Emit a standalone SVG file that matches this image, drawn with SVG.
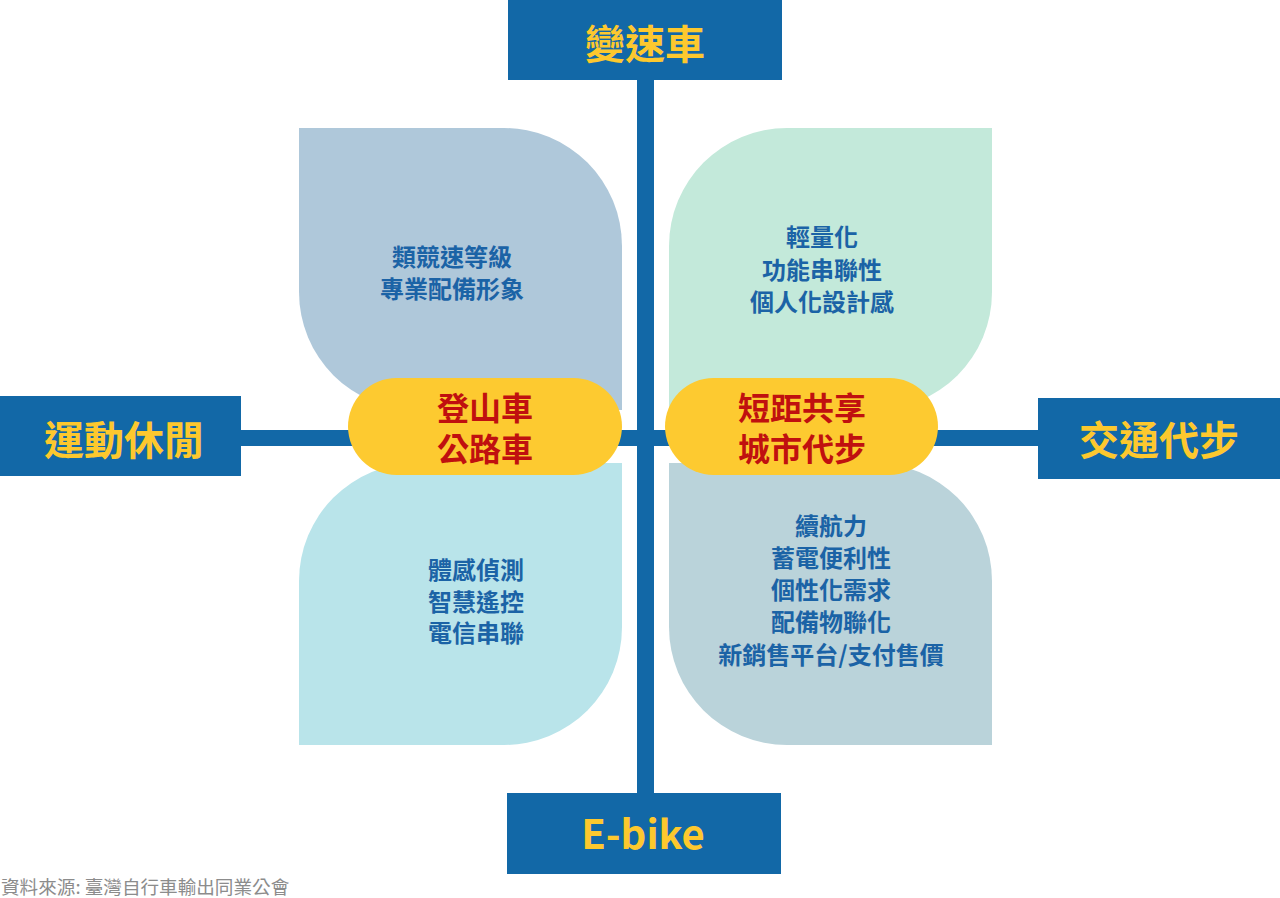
<svg xmlns="http://www.w3.org/2000/svg" width="1280" height="898" viewBox="0 0 1280 898">
<style>
.box{fill:#1268A7}
.boxt{font-family:"Noto Sans CJK TC","Noto Sans",sans-serif;font-weight:700;font-size:40px;fill:#FDC82E;text-anchor:middle}
.pill{fill:#FDCA30}
.pillt{font-family:"Noto Sans CJK TC",sans-serif;font-weight:700;font-size:32px;fill:#C0100F;text-anchor:middle}
.leaft{font-family:"Noto Sans CJK TC",sans-serif;font-weight:700;font-size:24px;fill:#1B63A6;text-anchor:middle}
.line{fill:#1268A7}
.note{font-family:"Noto Sans CJK TC",sans-serif;font-size:18.6px;fill:#8C8C8C}
</style>
<rect width="1280" height="898" fill="#FFFFFF"/>
<g id="leaf-tl">
<path d="M299,128 H504 A118,118 0 0 1 622,246 V410 H417 A118,118 0 0 1 299,292 Z" fill="#AFC8DA"/>
<text class="leaft" x="452" y="266">類競速等級</text>
<text class="leaft" x="452" y="298">專業配備形象</text>
</g>
<g id="leaf-tr">
<path d="M787,128 H992 V292 A118,118 0 0 1 874,410 H669 V246 A118,118 0 0 1 787,128 Z" fill="#C3E9DA"/>
<text class="leaft" x="822" y="246">輕量化</text>
<text class="leaft" x="822" y="279">功能串聯性</text>
<text class="leaft" x="822" y="311">個人化設計感</text>
</g>
<g id="leaf-bl">
<path d="M417,463 H622 V627 A118,118 0 0 1 504,745 H299 V581 A118,118 0 0 1 417,463 Z" fill="#B9E4EA"/>
<text class="leaft" x="476" y="579">體感偵測</text>
<text class="leaft" x="476" y="611">智慧遙控</text>
<text class="leaft" x="476" y="642">電信串聯</text>
</g>
<g id="leaf-br">
<path d="M669,463 H874 A118,118 0 0 1 992,581 V745 H787 A118,118 0 0 1 669,627 Z" fill="#BAD3DA"/>
<text class="leaft" x="831" y="535">續航力</text>
<text class="leaft" x="831" y="567">蓄電便利性</text>
<text class="leaft" x="831" y="599">個性化需求</text>
<text class="leaft" x="831" y="631">配備物聯化</text>
<text class="leaft" x="831" y="664">新銷售平台/支付售價</text>
</g>
<g id="connectors">
<rect class="line" x="637" y="80" width="17" height="713"/>
<rect class="line" x="241" y="430" width="797" height="16"/>
</g>
<g id="top">
<rect class="box" x="508" y="0" width="274" height="80"/>
<text class="boxt" x="645" y="59">變速車</text>
</g>
<g id="left">
<rect class="box" x="0" y="396" width="241" height="80"/>
<text class="boxt" x="124" y="455">運動休閒</text>
</g>
<g id="right">
<rect class="box" x="1038" y="398" width="242" height="81"/>
<text class="boxt" x="1159" y="455">交通代步</text>
</g>
<g id="bottom">
<rect class="box" x="507" y="793" width="274" height="81"/>
<text class="boxt" x="643" y="849">E-bike</text>
</g>
<g id="pill-left">
<rect class="pill" x="348" y="378" width="274" height="97" rx="48.5"/>
<text class="pillt" x="485" y="420">登山車</text>
<text class="pillt" x="485" y="461">公路車</text>
</g>
<g id="pill-right">
<rect class="pill" x="665" y="378" width="273" height="97" rx="48.5"/>
<text class="pillt" x="802" y="420">短距共享</text>
<text class="pillt" x="802" y="461">城市代步</text>
</g>
<text class="note" x="1" y="894">資料來源: 臺灣自行車輸出同業公會</text>
</svg>
